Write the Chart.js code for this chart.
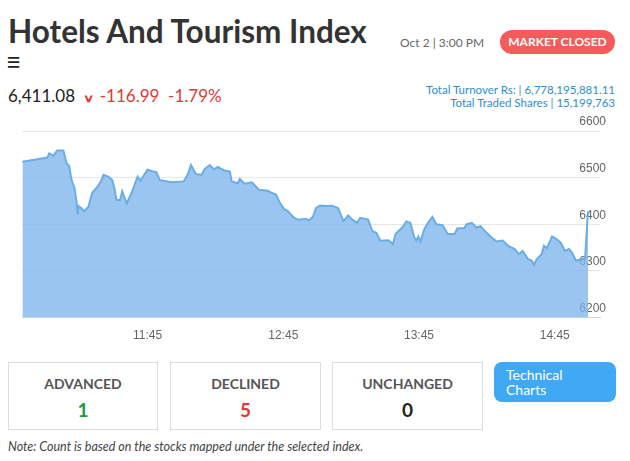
<!DOCTYPE html>
<html><head><meta charset="utf-8">
<script src="https://cdn.jsdelivr.net/npm/chart.js@4"></script>
<style>
body{margin:0;width:630px;height:461px;background:#fff;font-family:Lato,"Noto Sans",sans-serif;position:relative;overflow:hidden;color:#222}
.a{position:absolute;white-space:nowrap}
.box{position:absolute;top:362px;height:68px;border:1px solid #ddd;box-sizing:border-box;text-align:center}
.box .h{margin-top:12px;font-size:14px;font-weight:bold;color:#555}
.box .v{margin-top:6px;font-size:19px;font-weight:bold}
</style></head><body>
<div class="a" style="left:8px;top:12px;font-size:31.5px;font-weight:bold;color:#333">Hotels And Tourism Index</div>
<div class="a" style="left:6px;top:49px;font-size:26px;line-height:24px">&#8801;</div>
<div class="a" style="left:400px;top:35px;font-size:12px;color:#666">Oct 2 | 3:00 PM</div>
<div class="a" style="left:500px;top:30px;width:115px;height:24px;border-radius:12px;background:#f45b5b;color:#fff;font-size:12px;font-weight:bold;text-align:center;line-height:24px">MARKET CLOSED</div>
<div class="a" style="left:8px;top:85px;font-size:17px;color:#222">6,411.08 <span style="color:#e53935;font-size:11px;margin-left:6px;font-weight:bold;display:inline-block;transform:scaleX(1.4)">&#8744;</span> <span style="color:#e53935;margin-left:2px">-116.99 &nbsp;-1.79%</span></div>
<div class="a" style="right:15px;top:83px;font-size:11.5px;color:#2b8fd6;text-align:right;line-height:13px">Total Turnover Rs: | 6,778,195,881.11<br>Total Traded Shares | 15,199,763</div>
<div class="a" style="left:0;top:112px;width:630px;height:236px"><canvas id="c" width="630" height="236"></canvas></div>
<div class="box" style="left:8px;width:150px"><div class="h">ADVANCED</div><div class="v" style="color:#1a9a3a">1</div></div>
<div class="box" style="left:170px;width:151px"><div class="h">DECLINED</div><div class="v" style="color:#e53935">5</div></div>
<div class="box" style="left:332px;width:151px"><div class="h">UNCHANGED</div><div class="v" style="color:#222">0</div></div>
<div class="a" style="left:494px;top:362px;width:122px;height:40px;border-radius:8px;background:#3fa9f5;color:#fff;font-size:14px;line-height:15px;box-sizing:border-box;padding:5px 12px">Technical<br>Charts</div>
<div class="a" style="left:8px;top:439px;font-size:12.5px;font-style:italic;color:#444">Note: Count is based on the stocks mapped under the selected index.</div>
<script>
// minutes since midnight
const times = [649.7,660.7,661.5,663.3,665.1,667.8,669.2,670.4,671.3,672.7,673.6,674.1,674.5,675.7,677.0,678.8,680.5,682.8,684.6,685.5,687.6,689.4,690.5,691.2,692.9,693.8,695.8,697.9,700.6,701.8,705,707.7,708.9,710.3,715.6,721.0,722.7,724.2,726.3,728.9,730.2,732.5,734.3,736.0,738.7,741.4,742.2,744.9,745.8,747.9,751.1,754.3,758.2,760.0,761.8,763.5,765.3,767.1,769.7,771.5,775.1,776.3,778.1,779.5,781.3,783.9,786.6,789.2,791.6,793.7,795.5,797.6,799.0,802.5,804.3,806.1,807.9,811.4,813.5,814.6,817.6,819.4,821.2,822.9,823.8,824.7,825.6,827.4,829.2,830.9,832.7,835.4,837.7,840.7,841.9,845.1,846.0,848.3,850.4,852.2,854.0,856.6,859.3,862.0,864.6,867.3,869.1,870.8,873.1,874.9,875.8,877.0,879.2,880.2,881.5,883.8,885.9,887.7,889.5,891.3,892.7,894.4,896.6,898.4,899.7];
const values = [6534,6543,6552,6547,6558,6558,6531,6525,6497,6478,6449,6421,6439,6435,6428,6437,6467,6480,6494,6506,6502,6495,6474,6452,6452,6471,6445,6467,6502,6493,6517,6513,6512,6495,6490,6492,6506,6527,6508,6506,6518,6527,6518,6523,6516,6513,6492,6488,6497,6487,6490,6474,6472,6467,6464,6446,6433,6428,6414,6410,6412,6408,6416,6435,6440,6439,6440,6435,6407,6419,6410,6403,6414,6410,6386,6382,6365,6366,6358,6379,6393,6406,6403,6372,6365,6374,6363,6390,6405,6416,6400,6398,6379,6379,6391,6392,6400,6403,6393,6396,6386,6374,6363,6365,6353,6347,6336,6343,6326,6322,6313,6325,6336,6354,6349,6374,6368,6360,6343,6347,6339,6322,6325,6327,6428];
const xTicks = [705,765,825,885];
const yTicks = [6200,6300,6400,6500,6600];
const fmt = m => Math.floor(m/60)+':'+String(Math.round(m%60)).padStart(2,'0');

new Chart(document.getElementById('c'), {
  type: 'line',
  data: { datasets: [{
    data: times.map((t,i) => ({x:t, y:values[i]})),
    borderColor: '#6aaee6', backgroundColor: 'rgba(124,181,236,0.78)',
    borderWidth: 2, fill: 'start', pointRadius: 0, tension: 0
  }]},
  options: {
    responsive: false, animation: false,
    layout: { padding: { top: 19, left: 22, right: 18, bottom: 2 } },
    plugins: { legend: { display: false }, tooltip: { enabled: false } },
    scales: {
      x: { type: 'linear', min: 649.5, max: 905,
        afterBuildTicks: s => { s.ticks = xTicks.map(v => ({value:v})); },
        ticks: { callback: v => fmt(v), color: '#666', font: { size: 12 }, maxRotation: 0 },
        grid: { display: false, drawTicks: true, tickLength: 8, color: '#ccd6eb' },
        border: { color: '#ccd6eb' } },
      y: { position: 'right', min: 6200, max: 6600,
        afterBuildTicks: s => { s.ticks = yTicks.map(v => ({value:v})); },
        ticks: { mirror: true, padding: 6, labelOffset: -9, color: '#666', font: { size: 12 }, callback: v => v },
        grid: { color: '#e6e6e6', drawTicks: false }, border: { display: false } }
    }
  }
});
</script>
</body></html>
